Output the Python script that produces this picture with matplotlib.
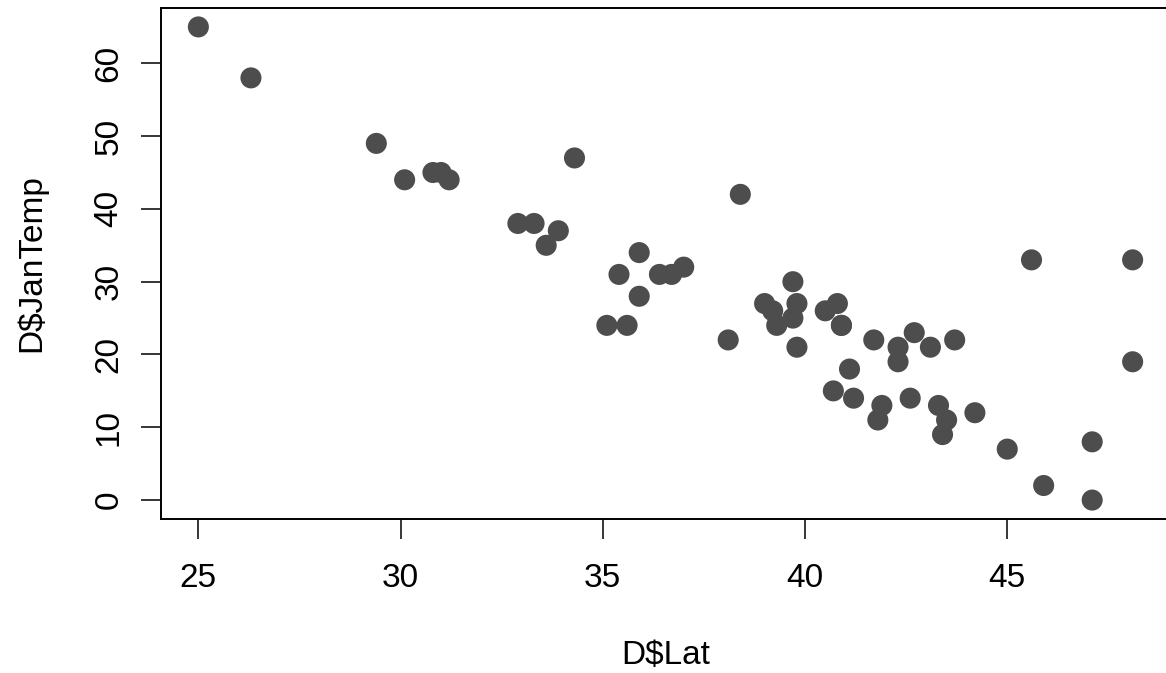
import matplotlib.pyplot as plt

# January temperature vs latitude for 56 US cities
lat = [31.2, 32.9, 33.6, 35.4, 34.3, 38.4, 40.7, 41.7, 40.5, 39.7,
       31.0, 25.0, 26.3, 33.9, 43.7, 42.3, 39.8, 41.8, 38.1, 39.0,
       30.8, 44.2, 39.7, 42.7, 43.1, 45.9, 39.3, 47.1, 41.9, 43.5,
       39.8, 35.1, 42.6, 40.8, 35.9, 36.4, 47.1, 39.2, 42.3, 35.9,
       45.6, 40.9, 40.9, 33.3, 36.7, 35.6, 29.4, 30.1, 41.1, 45.0,
       37.0, 48.1, 48.1, 43.4, 43.3, 41.2]
jan_temp = [44, 38, 35, 31, 47, 42, 15, 22, 26, 30,
            45, 65, 58, 37, 22, 19, 21, 11, 22, 27,
            45, 12, 25, 23, 21, 2, 24, 8, 13, 11,
            27, 24, 14, 27, 34, 31, 0, 26, 21, 28,
            33, 24, 24, 38, 31, 24, 49, 44, 18, 7,
            32, 33, 19, 9, 13, 14]

x_ticks = [25, 30, 35, 40, 45]
y_ticks = [0, 10, 20, 30, 40, 50, 60]

plt.rcParams['font.family'] = ['Liberation Sans', 'DejaVu Sans']
plt.rcParams['font.size'] = 24

fig = plt.figure(figsize=(11.66, 6.73), dpi=100)
ax = fig.add_axes([161 / 1166, 1 - 519 / 673, (1170 - 161) / 1166, (519 - 8) / 673])

ax.scatter(lat, jan_temp, s=230, color='#4d4d4d', edgecolors='none', zorder=3)

# R-style 4% padding on both axes
xr = max(lat) - min(lat)
yr = max(jan_temp) - min(jan_temp)
ax.set_xlim(min(lat) - 0.04 * xr, max(lat) + 0.04 * xr)
ax.set_ylim(min(jan_temp) - 0.04 * yr, max(jan_temp) + 0.04 * yr)

ax.set_xticks(x_ticks)
ax.set_yticks(y_ticks)
ax.set_yticklabels([str(v) for v in y_ticks], rotation=90, va='center')
ax.tick_params(direction='out', length=14.4, width=1.1, color='black')
ax.tick_params(axis='x', pad=17)
ax.tick_params(axis='y', pad=12)
for s in ax.spines.values():
    s.set_linewidth(1.4)

# axis titles placed like R's mtext at line 3
fig.text(666 / 1166, 1 - 664 / 673, 'D$Lat', ha='center', va='baseline')
fig.text(40 / 1166, 1 - 263 / 673, 'D$JanTemp', ha='center', va='baseline',
         rotation=90, rotation_mode='anchor')

fig.savefig('out.png', dpi=100)
